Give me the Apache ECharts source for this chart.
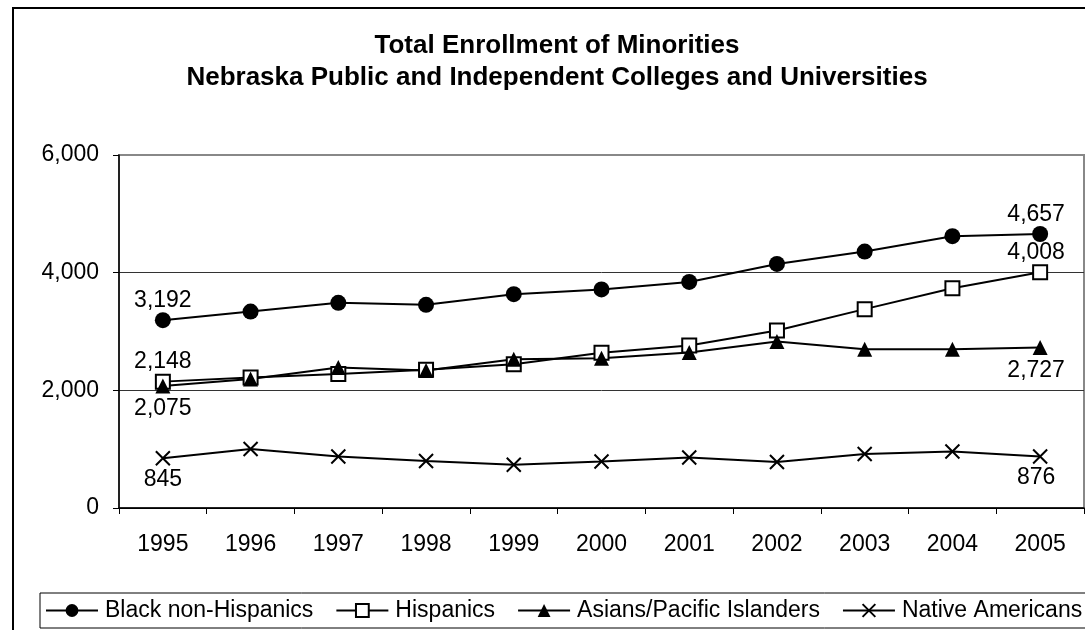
<!DOCTYPE html>
<html>
<head>
<meta charset="utf-8">
<script src="https://cdn.jsdelivr.net/npm/echarts@6/dist/echarts.min.js"></script>
<style>
html,body{margin:0;padding:0;background:#fff;}
#chart{width:1085px;height:630px;}
</style>
</head>
<body>
<div id="chart"></div>
<script>
var years = ['1995','1996','1997','1998','1999','2000','2001','2002','2003','2004','2005'];
var black = [3192, 3339, 3487, 3453, 3634, 3715, 3843, 4149, 4358, 4620, 4657];
var hispanics = [2148, 2218, 2276, 2349, 2445, 2640, 2762, 3016, 3380, 3736, 4008];
var asians = [2075, 2191, 2388, 2337, 2530, 2547, 2643, 2830, 2700, 2700, 2727];
var natives = [845, 1002, 876, 798, 735, 791, 859, 781, 917, 961, 876];
var seriesNames = ['Black non-Hispanics', 'Hispanics', 'Asians/Pacific Islanders', 'Native Americans'];
var yTicks = [0, 2000, 4000, 6000];

var FONT = '"Liberation Sans", Arial, sans-serif';
function fmt(v){ return Number(v).toLocaleString('en-US'); }

function withEndLabels(values, pos, dist){
  return values.map(function(v, i){
    if (i === 0) {
      return { value: v, label: { show: true, position: pos, distance: dist } };
    }
    if (i === values.length - 1) {
      return { value: v, label: { show: true, position: pos, distance: dist, offset: [-4, 0] } };
    }
    return v;
  });
}

var crossPath = 'path://M0,0L10,10M10,0L0,10';

function makeSeries(name, values, symbol, size, fill, pos, dist){
  return {
    name: name,
    type: 'line',
    data: withEndLabels(values, pos, dist),
    symbol: symbol,
    symbolSize: size,
    showAllSymbol: true,
    lineStyle: { color: '#000', width: 2 },
    itemStyle: { color: fill, borderColor: '#000', borderWidth: fill === '#000' ? 0 : 2 },
    label: {
      show: false,
      color: '#000',
      fontFamily: FONT,
      fontSize: 23,
      formatter: function(p){ return fmt(p.value); }
    },
    emphasis: { disabled: true },
    animation: false,
    z: 3
  };
}

var chart = echarts.init(document.getElementById('chart'), null, { renderer: 'canvas' });
chart.setOption({
  backgroundColor: '#fff',
  animation: false,
  graphic: [{
    type: 'rect',
    z: -10,
    shape: { x: 13, y: 8, width: 1200, height: 800 },
    style: { fill: 'none', stroke: '#000', lineWidth: 2 }
  }],
  title: {
    text: 'Total Enrollment of Minorities\nNebraska Public and Independent Colleges and Universities',
    left: 557,
    top: 30,
    padding: 0,
    textAlign: 'center',
    textStyle: { fontFamily: FONT, fontSize: 26, fontWeight: 'bold', color: '#000', lineHeight: 32 }
  },
  grid: {
    left: 119, right: 1, top: 155, bottom: 122,
    show: true, borderColor: '#888', borderWidth: 2, backgroundColor: 'transparent'
  },
  legend: {
    data: seriesNames,
    left: 40,
    top: 593,
    width: 1400,
    orient: 'horizontal',
    padding: [6, 5, 6, 5],
    itemGap: 22,
    itemWidth: 52,
    itemHeight: 16,
    borderColor: '#000',
    borderWidth: 1,
    backgroundColor: '#fff',
    textStyle: { fontFamily: FONT, fontSize: 23, color: '#000', padding: [0, 0, 0, 2] },
    selectedMode: false
  },
  xAxis: {
    type: 'category',
    data: years,
    boundaryGap: true,
    axisLine: { lineStyle: { color: '#000', width: 1.5 } },
    axisTick: { show: true, length: 6, inside: false, alignWithLabel: false, lineStyle: { color: '#000' } },
    axisLabel: { color: '#000', fontFamily: FONT, fontSize: 23, margin: 25 },
    splitLine: { show: false }
  },
  yAxis: {
    type: 'value',
    min: yTicks[0],
    max: yTicks[yTicks.length - 1],
    interval: 2000,
    axisLine: { show: true, lineStyle: { color: '#000', width: 1.5 } },
    axisTick: { show: true, length: 6, inside: false, lineStyle: { color: '#000' } },
    axisLabel: { color: '#000', fontFamily: FONT, fontSize: 23, margin: 20, formatter: fmt },
    splitLine: { show: true, lineStyle: { color: ['#000', '#333', '#333', '#888'], width: 1 } }
  },
  series: [
    makeSeries(seriesNames[0], black, 'circle', 16, '#000', 'top', 0),
    makeSeries(seriesNames[1], hispanics, 'rect', 14, '#fff', 'top', 0),
    makeSeries(seriesNames[2], asians, 'triangle', 15, '#000', 'bottom', 4),
    makeSeries(seriesNames[3], natives, crossPath, 14, 'none', 'bottom', 0)
  ]
});
</script>
</body>
</html>
